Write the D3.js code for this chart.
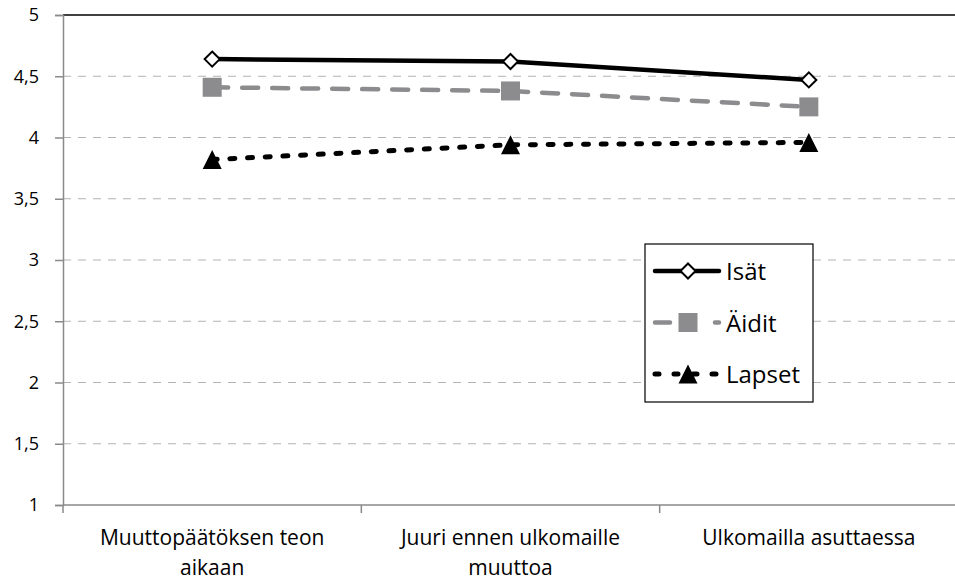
<!DOCTYPE html>
<html>
<head>
<meta charset="utf-8">
<script src="https://cdn.jsdelivr.net/npm/d3@7"></script>
<style>
  body { margin: 0; background: #fff; }
  svg { display: block; font-family: "Open Sans", sans-serif; }
</style>
</head>
<body>
<svg width="955" height="581"></svg>
<script>
// Data
const categories = [["Muuttopäätöksen teon", "aikaan"], ["Juuri ennen ulkomaille", "muuttoa"], ["Ulkomailla asuttaessa"]];
const seriesNames = ["Isät", "Äidit", "Lapset"];
const isat = [4.64, 4.62, 4.47];
const aidit = [4.41, 4.38, 4.25];
const lapset = [3.82, 3.94, 3.96];
const yTicks = [1, 1.5, 2, 2.5, 3, 3.5, 4, 4.5, 5];

const series = [
    { name: seriesNames[0], values: isat, color: "#000", width: 4.5, dash: null, legendDash: null, marker: "diamond" },
    { name: seriesNames[1], values: aidit, color: "#8c8c8e", width: 4.5, dash: "16,14", legendDash: "15,45", marker: "square" },
    { name: seriesNames[2], values: lapset, color: "#000", width: 5, dash: "5,12.7", legendDash: "4,15", marker: "triangle" }
];

const margin = { top: 15, right: -3, bottom: 76, left: 63 };
const width = 955 - margin.left - margin.right;
const height = 581 - margin.top - margin.bottom;

const svg = d3.select("svg")
  .append("g")
    .attr("transform", `translate(${margin.left},${margin.top})`);

const x = d3.scaleBand().domain(d3.range(categories.length)).range([0, width]);
const y = d3.scaleLinear().domain([1, 5]).range([height, 0]);

// Gridlines
svg.append("g")
    .selectAll("line")
    .data(yTicks.filter(d => d > 1 && d < 5))
  .enter().append("line")
    .attr("x1", 0).attr("x2", width)
    .attr("y1", d => y(d)).attr("y2", d => y(d))
    .attr("stroke", "#b3b3b3")
    .attr("stroke-width", 1.2)
    .attr("stroke-dasharray", "8,7");

// top border
svg.append("line")
    .attr("x1", 0).attr("x2", width)
    .attr("y1", y(5)).attr("y2", y(5))
    .attr("stroke", "#000").attr("stroke-width", 1.5);

// Y axis
const yAxis = svg.append("g")
    .call(d3.axisLeft(y).tickValues(yTicks).tickSize(8).tickPadding(16)
        .tickFormat(d => String(d).replace(".", ",")));
yAxis.attr("font-family", null).attr("font-size", null);
yAxis.select(".domain").attr("stroke", "#8a8a8a").attr("stroke-width", 1.5);
yAxis.selectAll(".tick line").attr("stroke", "#8a8a8a").attr("stroke-width", 1.5);
yAxis.selectAll("text").style("font-size", "18px").attr("fill", "#000");

// X axis
const xAxisG = svg.append("g").attr("transform", `translate(0,${height})`);
xAxisG.append("line")
    .attr("x1", 0).attr("x2", width)
    .attr("stroke", "#8a8a8a").attr("stroke-width", 1.5);
xAxisG.selectAll(".xtick")
    .data(d3.range(categories.length + 1))
  .enter().append("line")
    .attr("x1", d => d === categories.length ? width : x(d))
    .attr("x2", d => d === categories.length ? width : x(d))
    .attr("y1", 0).attr("y2", 8)
    .attr("stroke", "#8a8a8a").attr("stroke-width", 1.5);
xAxisG.selectAll(".xlabel")
    .data(categories)
  .enter().append("text")
    .attr("text-anchor", "middle")
    .attr("x", (d, i) => x(i) + x.bandwidth() / 2)
    .style("font-size", "21px")
    .selectAll("tspan")
    .data(d => d)
  .enter().append("tspan")
    .attr("x", function() { return this.parentNode.getAttribute("x"); })
    .attr("y", (d, i) => 40 + i * 29.5)
    .text(d => d);

// Lines
const line = d3.line()
    .x((d, i) => x(i) + x.bandwidth() / 2)
    .y(d => y(d));

function drawMarker(g, type, color, size) {
    if (type === "diamond") {
        g.append("path")
            .attr("d", d3.symbol(d3.symbolDiamond2, size * size * 0.5)())
            .attr("fill", "#fff").attr("stroke", "#000").attr("stroke-width", 2);
    } else if (type === "square") {
        g.append("rect")
            .attr("x", -size / 2).attr("y", -size / 2)
            .attr("width", size).attr("height", size)
            .attr("fill", color);
    } else {
        g.append("path")
            .attr("d", `M0,${-size / 2}L${size / 2},${size / 2}L${-size / 2},${size / 2}Z`)
            .attr("fill", color);
    }
}

series.forEach(s => {
    svg.append("path")
        .datum(s.values)
        .attr("fill", "none")
        .attr("stroke", s.color)
        .attr("stroke-width", s.width)
        .attr("stroke-linecap", s.dash ? "round" : "butt")
        .attr("stroke-dasharray", s.dash)
        .attr("d", line);
    s.values.forEach((v, i) => {
        const g = svg.append("g")
            .attr("transform", `translate(${x(i) + x.bandwidth() / 2},${y(v)})`);
        drawMarker(g, s.marker, s.color, s.marker === "diamond" ? 17 : 19);
    });
});

// Legend
const legend = svg.append("g").attr("transform", `translate(${645 - margin.left},${244 - margin.top})`);
legend.append("rect")
    .attr("width", 168).attr("height", 158)
    .attr("fill", "#fff").attr("stroke", "#000").attr("stroke-width", 1.2);
series.forEach((s, i) => {
    const ly = 27 + i * 51.5;
    legend.append("line")
        .attr("x1", 10).attr("x2", 74)
        .attr("y1", ly).attr("y2", ly)
        .attr("stroke", s.color)
        .attr("stroke-width", s.width)
        .attr("stroke-linecap", "round")
        .attr("stroke-dasharray", s.legendDash);
    const g = legend.append("g").attr("transform", `translate(43,${ly})`);
    drawMarker(g, s.marker, s.color, s.marker === "diamond" ? 17 : 19);
    legend.append("text")
        .attr("x", 81).attr("y", ly + 9)
        .style("font-size", "24px")
        .text(s.name);
});
</script>
</body>
</html>
